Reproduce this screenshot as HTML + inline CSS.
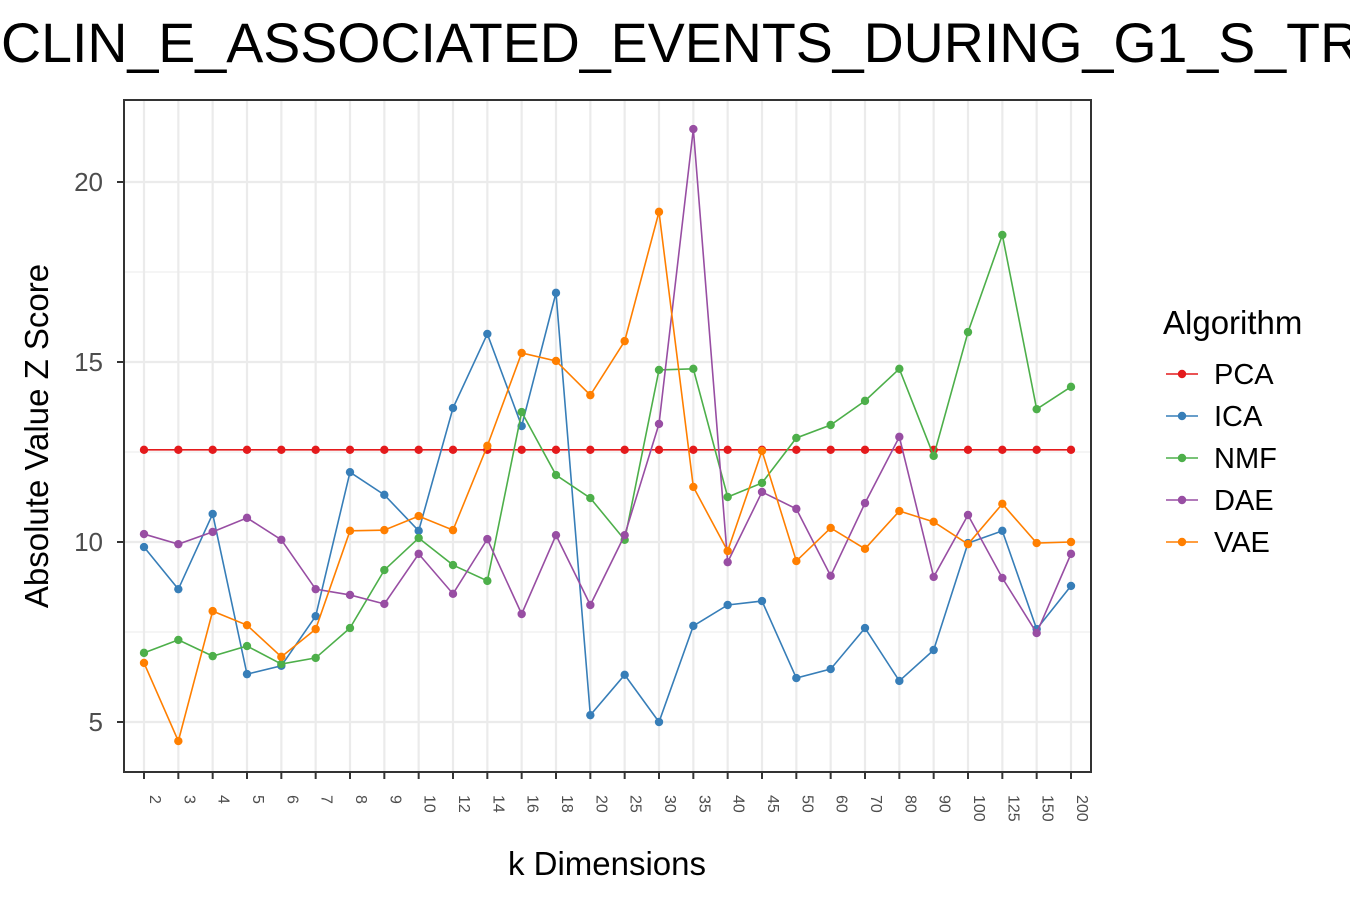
<!DOCTYPE html>
<html><head><meta charset="utf-8"><style>
body{margin:0;background:#fff}
svg{display:block;font-family:"Liberation Sans",Arial,sans-serif}
</style></head><body>
<svg id="chart" width="1350" height="900" viewBox="0 0 1350 900">
<text id="title" x="0" y="62" font-size="55.5" fill="#000">REACTOME_CYCLIN_E_ASSOCIATED_EVENTS_DURING_G1_S_TRANSITION</text>
<rect x="124" y="100" width="967" height="672" fill="#fff"/>
<g id="grid"></g><g id="series"></g>
<rect x="124" y="100" width="967" height="672" fill="none" stroke="#333" stroke-width="2"/>
<g id="axes"></g>
<text x="607" y="875" font-size="33" text-anchor="middle">k Dimensions</text>
<text transform="translate(48,436) rotate(-90)" font-size="33" text-anchor="middle">Absolute Value Z Score</text>
<g id="legend"><text x="1163" y="334" font-size="33">Algorithm</text></g>
</svg>
<script>
const categories=["2","3","4","5","6","7","8","9","10","12","14","16","18","20","25","30","35","40","45","50","60","70","80","90","100","125","150","200"];
const yTicks=[5,10,15,20];
const seriesNames=["PCA","ICA","NMF","DAE","VAE"];
const seriesColors=["#e41a1c","#377eb8","#4daf4a","#984ea3","#ff7f00"];
const pca=[12.56,12.56,12.56,12.56,12.56,12.56,12.56,12.56,12.56,12.56,12.56,12.56,12.56,12.56,12.56,12.56,12.56,12.56,12.56,12.56,12.56,12.56,12.56,12.56,12.56,12.56,12.56,12.56];
const ica=[9.86,8.69,10.78,6.33,6.56,7.94,11.94,11.31,10.31,13.72,15.78,13.22,16.92,5.19,6.31,5.0,7.67,8.25,8.36,6.22,6.47,7.61,6.14,7.0,9.97,10.31,7.58,8.78];
const nmf=[6.92,7.28,6.83,7.11,6.61,6.78,7.61,9.22,10.11,9.36,8.92,13.61,11.86,11.22,10.06,14.78,14.81,11.25,11.64,12.89,13.25,13.92,14.81,12.39,15.83,18.53,13.69,14.31];
const dae=[10.22,9.94,10.28,10.67,10.06,8.69,8.53,8.28,9.67,8.56,10.08,8.0,10.19,8.25,10.19,13.28,21.47,9.44,11.39,10.92,9.06,11.08,12.92,9.03,10.75,9.0,7.47,9.67];
const vae=[6.64,4.47,8.08,7.69,6.81,7.58,10.31,10.33,10.72,10.33,12.67,15.25,15.03,14.08,15.58,19.17,11.53,9.75,12.53,9.47,10.39,9.81,10.86,10.56,9.94,11.06,9.97,10.0];
const seriesData=[pca,ica,nmf,dae,vae];
const NS="http://www.w3.org/2000/svg";
const x=i=>144+i*(1071-144)/(categories.length-1);
const y=v=>542-(v-10)*36;
function mk(tag,attrs,parent){const e=document.createElementNS(NS,tag);for(const k in attrs)e.setAttribute(k,attrs[k]);parent.appendChild(e);return e;}
const grid=document.getElementById('grid'),axes=document.getElementById('axes'),ser=document.getElementById('series'),leg=document.getElementById('legend');
for(let k=2.5;k<=22.5;k+=2.5){if(y(k)<100||y(k)>772)continue;const l=mk('line',{x1:124,x2:1091,y1:y(k),y2:y(k),stroke:'#ebebeb','stroke-width':k%5===0?2.2:1.1},grid);

}
categories.forEach((c,i)=>{const l=mk('line',{x1:x(i),x2:x(i),y1:100,y2:772,stroke:'#ebebeb','stroke-width':2.2},grid);


const t=mk('line',{x1:x(i),x2:x(i),y1:772,y2:779,stroke:'#333','stroke-width':2},axes);


const tx=mk('text',{transform:`translate(${x(i)+6},795) rotate(90)`,'font-size':16,fill:'#4d4d4d'},axes);tx.textContent=c;

});
yTicks.forEach(v=>{const t=mk('line',{x1:117,x2:124,y1:y(v),y2:y(v),stroke:'#333','stroke-width':2},axes);


const tx=mk('text',{x:103,y:y(v)+9,'font-size':26,fill:'#4d4d4d','text-anchor':'end'},axes);tx.textContent=v;

});
seriesData.forEach((d,s)=>{const g=mk('g',{},ser);


const pl=mk('polyline',{points:d.map((v,i)=>x(i)+','+y(v)).join(' '),fill:'none',stroke:seriesColors[s],'stroke-width':1.6},g);


d.forEach((v,i)=>{const p=mk('circle',{cx:x(i),cy:y(v),r:4.2,fill:seriesColors[s]},g);

});
const ly=374+s*42;
const le=mk('g',{},leg);


mk('line',{x1:1166,x2:1198,y1:ly,y2:ly,stroke:seriesColors[s],'stroke-width':1.6},le);
mk('circle',{cx:1182,cy:ly,r:4.2,fill:seriesColors[s]},le);
const lt=mk('text',{x:1214,y:ly+10,'font-size':29},le);lt.textContent=seriesNames[s];});
const title=document.getElementById('title');
try{const w=title.getSubStringLength(0,11);title.setAttribute('x',-w+1);}catch(e){}
</script>
</body></html>
